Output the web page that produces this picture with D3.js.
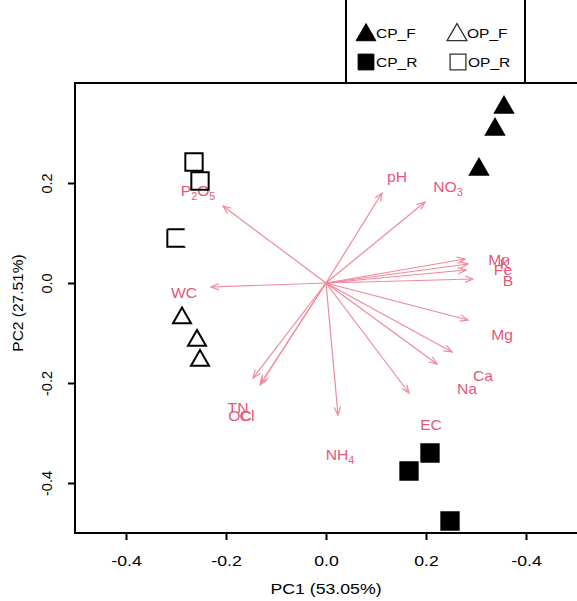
<!DOCTYPE html>
<html>
<head>
<meta charset="utf-8">
<script src="https://cdn.jsdelivr.net/npm/d3@7"></script>
<style>
  body { margin: 0; background: #fff; }
  svg { display: block; font-family: "Liberation Sans", Arial, sans-serif; }
</style>
</head>
<body>
<div id="chart"></div>
<script>
// sample scores (PC1, PC2)
const groups = ["CP_F", "OP_F", "CP_R", "OP_R"];
const cpF = [[0.356, 0.351], [0.338, 0.307], [0.306, 0.227]];
const opF = [[-0.288, -0.070], [-0.258, -0.115], [-0.252, -0.155]];
const cpR = [[0.208, -0.340], [0.166, -0.376], [0.248, -0.476]];
const opR = [[-0.264, 0.242], [-0.252, 0.204], [-0.300, 0.090]];

// variable loadings (arrow tips) and where their labels sit
const varNames = ["P2O5", "pH", "NO3", "WC", "Mn", "K", "Fe", "B", "Mg", "Ca", "Na", "EC", "NH4", "TN", "OC", "Cl"];
const loadX = [-0.206, 0.112, 0.198, -0.230, 0.278, 0.284, 0.280, 0.294, 0.284, 0.252, 0.222, 0.166, 0.024, -0.146, -0.132, -0.130];
const loadY = [0.154, 0.180, 0.162, -0.008, 0.048, 0.038, 0.026, 0.008, -0.074, -0.138, -0.162, -0.220, -0.264, -0.190, -0.204, -0.200];
const labX  = [-0.256, 0.142, 0.244, -0.284, 0.346, 0.358, 0.354, 0.364, 0.352, 0.314, 0.282, 0.210, 0.028, -0.176, -0.172, -0.158];
const labY  = [0.184, 0.212, 0.192, -0.020, 0.046, 0.038, 0.026, 0.004, -0.104, -0.186, -0.212, -0.284, -0.344, -0.250, -0.266, -0.266];

const xTicks = [-0.4, -0.2, 0, 0.2, 0.4];
const xTickLabels = ["-0.4", "-0.2", "0.0", "0.2", "-0.4"];
const yTicks = [-0.4, -0.2, 0, 0.2];
const yTickLabels = ["-0.4", "-0.2", "0.0", "0.2"];

const W = 577, H = 601;
const svg = d3.select("#chart").append("svg")
    .attr("width", W)
    .attr("height", H);

const x = d3.scaleLinear().domain([-0.5, 0.5]).range([76, 576]);
const y = d3.scaleLinear().domain([-0.5, 0.4]).range([533, 83]);

const txtCol = "#e4587a";
const arrCol = "#f0899b";
const stretch = 1.18; // text in the source is a bit wider than plain Arial

// arrow head marker
svg.append("defs").append("marker")
    .attr("id", "head")
    .attr("markerUnits", "userSpaceOnUse")
    .attr("viewBox", "-9 -5 10 10")
    .attr("refX", 0).attr("refY", 0)
    .attr("markerWidth", 10).attr("markerHeight", 10)
    .attr("orient", "auto")
  .append("path")
    .attr("d", "M-8,-3.2 L0,0 L-8,3.2")
    .attr("fill", "none")
    .attr("stroke", arrCol)
    .attr("stroke-width", 1.2);

// arrows
const loadings = varNames.map((n, i) => ({ name: n, x: loadX[i], y: loadY[i], lx: labX[i], ly: labY[i] }));
svg.selectAll(".arrow")
    .data(loadings)
    .enter()
    .append("line")
        .attr("class", "arrow")
        .attr("x1", x(0)).attr("y1", y(0))
        .attr("x2", d => x(d.x)).attr("y2", d => y(d.y))
        .attr("stroke", arrCol)
        .attr("stroke-width", 1.2)
        .attr("marker-end", "url(#head)");

// labels, with subscripts where needed
const subs = { P2O5: ["P", "2", "O", "5"], NO3: ["NO", "3"], NH4: ["NH", "4"] };
loadings.forEach(d => {
    const t = svg.append("g")
        .attr("transform", `translate(${x(d.lx)},${y(d.ly)}) scale(1.08,1)`)
      .append("text")
        .attr("dy", "0.36em")
        .attr("text-anchor", "middle")
        .attr("fill", txtCol)
        .style("font-size", "14.5px");
    const parts = subs[d.name];
    if (!parts) { t.text(d.name); return; }
    parts.forEach((p, k) => {
        const s = t.append("tspan").text(p);
        if (k % 2 === 1) s.style("font-size", "10px").attr("dy", "4");
        else if (k > 0) s.attr("dy", "-4");
    });
});

// axes
const xAxis = svg.append("g")
    .attr("transform", `translate(0,${y(-0.5)})`)
    .call(d3.axisBottom(x).tickValues(xTicks).tickSize(7).tickSizeOuter(0)
        .tickFormat((d, i) => xTickLabels[i]));
xAxis.select(".domain").attr("stroke-width", 2).attr("d", `M74,0H${W}`);
xAxis.selectAll(".tick line").attr("stroke-width", 2);
xAxis.selectAll(".tick text").attr("y", 22).attr("transform", `scale(${stretch},1)`)
    .style("font-size", "15px")
    .style("font-family", "Liberation Sans, Arial, sans-serif").attr("fill", "#000");

const yAxis = svg.append("g")
    .attr("transform", `translate(75,0)`)
    .call(d3.axisLeft(y).tickValues(yTicks).tickSize(7).tickSizeOuter(0)
        .tickFormat((d, i) => yTickLabels[i]));
yAxis.select(".domain").attr("stroke-width", 2).attr("d", `M0,${y(0.4)}V${y(-0.5)}`);
yAxis.selectAll(".tick line").attr("stroke-width", 2);
yAxis.selectAll(".tick text")
    .attr("x", 0).attr("y", 0).attr("dy", 0)
    .attr("text-anchor", "middle")
    .attr("transform", "translate(-23,0) rotate(-90)")
    .style("font-size", "14.5px")
    .style("font-family", "Liberation Sans, Arial, sans-serif").attr("fill", "#000");

// top frame line
svg.append("line")
    .attr("x1", 74).attr("x2", W)
    .attr("y1", y(0.4)).attr("y2", y(0.4))
    .attr("stroke", "#000").attr("stroke-width", 2);

svg.append("g")
    .attr("transform", `translate(${x(0)},594) scale(${stretch},1)`)
  .append("text")
    .attr("text-anchor", "middle")
    .style("font-size", "15px")
    .text("PC1 (53.05%)");

svg.append("text")
    .attr("transform", `translate(23,${y(-0.04)}) rotate(-90)`)
    .attr("text-anchor", "middle")
    .style("font-size", "15.5px")
    .text("PC2 (27.51%)");

// sample points
const shapes = {
    CP_F: { sym: d3.symbolTriangle, size: 140, fill: "#000" },
    OP_F: { sym: d3.symbolTriangle, size: 140, fill: "#fff" },
    CP_R: { sym: d3.symbolSquare, size: 300, fill: "#000" },
    OP_R: { sym: d3.symbolSquare, size: 300, fill: "none" }
};
const scores = [cpF, opF, cpR, opR];
scores.forEach((pts, gi) => {
    const sh = shapes[groups[gi]];
    svg.selectAll(`.pt${gi}`)
        .data(pts)
        .enter()
        .append("path")
            .attr("class", `pt${gi}`)
            .attr("transform", d => `translate(${x(d[0])},${y(d[1])})`)
            .attr("d", d3.symbol().type(sh.sym).size(sh.size))
            .attr("fill", sh.fill)
            .attr("stroke", "#000")
            .attr("stroke-width", 2);
});
// the lowest OP_R square is drawn without its right edge in the original
const side = Math.sqrt(300);
svg.selectAll(".pt3").filter((d, i) => i === 2)
    .attr("stroke-dasharray", `${side},${side},${2 * side}`);

// legend above the plot
const leg = svg.append("g");
leg.append("line").attr("x1", 346).attr("x2", 346).attr("y1", 0).attr("y2", 83)
    .attr("stroke", "#000").attr("stroke-width", 2);
leg.append("line").attr("x1", 525).attr("x2", 525).attr("y1", 0).attr("y2", 83)
    .attr("stroke", "#000").attr("stroke-width", 2);
const legPos = { CP_F: [366, 33], OP_F: [457, 33], CP_R: [366, 62], OP_R: [458, 62] };
groups.forEach(g => {
    const sh = shapes[g];
    const [lx, ly] = legPos[g];
    leg.append("path")
        .attr("transform", `translate(${lx},${ly + (sh.sym === d3.symbolTriangle ? 2 : 0)})`)
        .attr("d", d3.symbol().type(sh.sym).size(sh.sym === d3.symbolTriangle ? 170 : 250))
        .attr("fill", sh.fill === "none" ? "#fff" : sh.fill)
        .attr("stroke", sh.fill === "#000" ? "#000" : "#333")
        .attr("stroke-width", sh.fill === "#000" ? 1 : 1.3);
    leg.append("g")
        .attr("transform", `translate(${lx + 10},${ly}) scale(1.15,1)`)
      .append("text")
        .attr("dy", "0.36em")
        .style("font-size", "13.5px")
        .text(g);
});
</script>
</body>
</html>
